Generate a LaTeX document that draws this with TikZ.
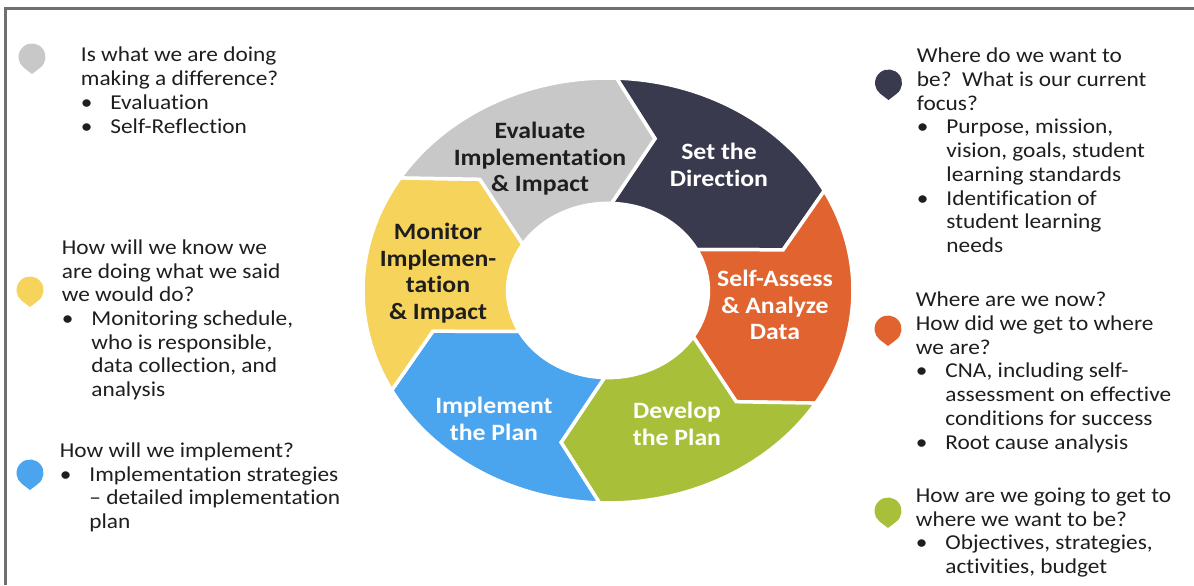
\documentclass[tikz,border=0pt]{standalone}
\usepackage{fontspec}
\setmainfont{Carlito}[FakeStretch=1.1,Ligatures=NoCommon]
\usepackage{tikz}
\usetikzlibrary{positioning}
\definecolor{frame}{RGB}{112,112,112}
\definecolor{ink}{RGB}{30,30,30}
\definecolor{evalgrey}{RGB}{200,200,200}
\definecolor{dirnavy}{RGB}{57,58,78}
\definecolor{assessorange}{RGB}{225,99,48}
\definecolor{devgreen}{RGB}{168,191,58}
\definecolor{implblue}{RGB}{74,164,238}
\definecolor{monyellow}{RGB}{246,211,90}

% one chevron of the ring: start angle, colour
\newcommand{\ringseg}[2]{%
  \filldraw[fill=#2,draw=white,line width=1.75pt] (#1:1)
    arc[start angle=#1,end angle=#1-60,radius=1] -- (#1-73:0.74)
    -- (#1-60:0.41) arc[start angle=#1-60,end angle=#1,radius=0.41]
    -- (#1-13:0.74) -- cycle;}
% map pin: x, y, colour
\newcommand{\pinmark}[3]{%
  \fill[#3,shift={(#1,#2)}] (0,-17) -- (-52.6:13.5)
    arc[start angle=-52.6,end angle=232.6,radius=13.5] -- cycle;}
\newcommand{\itm}{\makebox[14.75pt][l]{\textbullet}}
\newcommand{\cnt}{\hspace*{14.75pt}}

\begin{document}
\begin{tikzpicture}[x=0.5pt,y=0.5pt,
 lbl/.style={font=\fontsize{11.7}{13.25}\selectfont\bfseries,align=center,inner sep=0pt},
 q/.style={anchor=north west,inner sep=0pt,align=left,text=ink,
   font=\fontsize{10.6}{11.85}\selectfont}]
 \useasboundingbox (0,0) rectangle (1194,585);
 \draw[frame,line width=1.5pt] (5,0) -- (5,576.7) -- (1194,576.7);

 % ring
 \begin{scope}[shift={(608,294.5)},xscale=245,yscale=212.5]
  \ringseg{88}{dirnavy}
  \ringseg{28}{assessorange}
  \ringseg{-32}{devgreen}
  \ringseg{-92}{implblue}
  \ringseg{208}{monyellow}
  \ringseg{148}{evalgrey}
 \end{scope}
 \node[lbl,text=ink](evaluate) at (540,426) {Evaluate\\Implementation\\\& Impact};
 \node[lbl,text=white](direction) at (719,420) {Set the\\Direction};
 \node[lbl,text=white](assess) at (775,280) {Self-Assess\\\& Analyze\\Data};
 \node[lbl,text=white](develop) at (677,161) {Develop\\the Plan};
 \node[lbl,text=white](implement) at (494,166) {Implement\\the Plan};
 \node[lbl,text=ink](monitor) at (438,312) {Monitor\\Implemen-\\tation\\\& Impact};

 % questions
 \pinmark{32}{528}{evalgrey}
 \node[q](qeval) at (80.5,540) {\strut Is what we are doing\\making a difference?\\
   \itm Evaluation\\\itm Self-Reflection};
 \pinmark{30}{295}{monyellow}
 \node[q](qmonitor) at (61.5,347.6) {\strut How will we know we\\are doing what we said\\we would do?\\
   \itm Monitoring schedule,\\\cnt who is responsible,\\\cnt data collection, and\\\cnt analysis};
 \pinmark{30}{112}{implblue}
 \node[q](qimpl) at (59.5,144.6) {\strut How will we implement?\\
   \itm Implementation strategies\\\cnt -- detailed implementation\\\cnt plan};
 \pinmark{888.5}{502}{dirnavy}
 \node[q](qdir) at (916.5,539.1) {\strut Where do we want to\\be?\ \ What is our current\\focus?\\
   \itm Purpose, mission,\\\cnt vision, goals, student\\\cnt learning standards\\
   \itm Identification of\\\cnt student learning\\\cnt needs};
 \pinmark{888}{256}{assessorange}
 \node[q](qassess) at (915.5,295.1) {\strut Where are we now?\\How did we get to where\\we are?\\
   \itm CNA, including self-\\\cnt assessment on effective\\\cnt conditions for success\\
   \itm Root cause analysis};
 \pinmark{888}{74}{devgreen}
 \node[q](qdevelop) at (915.5,99.6) {\strut How are we going to get to\\where we want to be?\\
   \itm Objectives, strategies,\\\cnt activities, budget};
\end{tikzpicture}
\end{document}
